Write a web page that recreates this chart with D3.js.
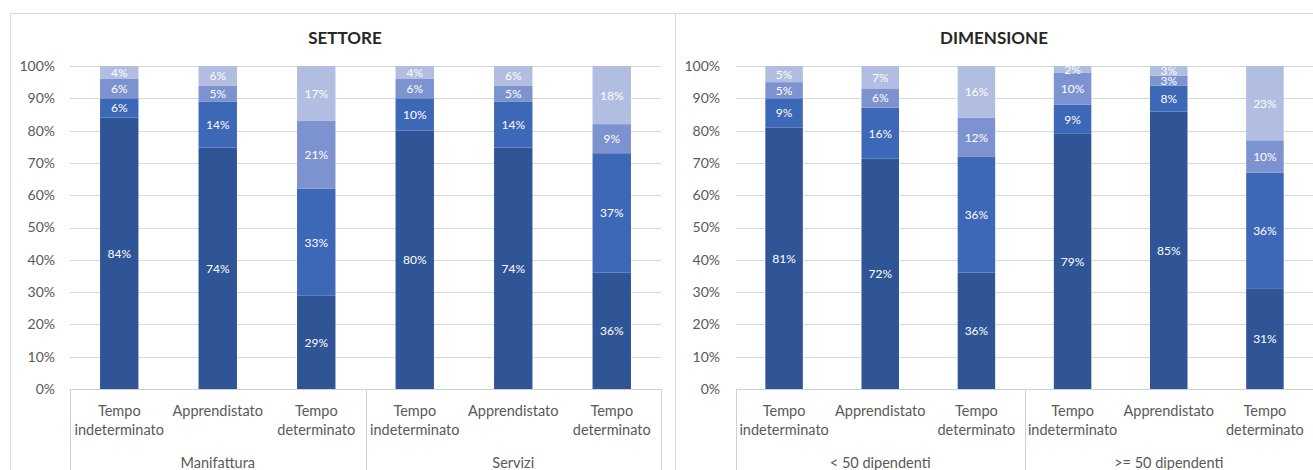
<!DOCTYPE html>
<html>
<head>
<meta charset="utf-8">
<script src="https://cdn.jsdelivr.net/npm/d3@7"></script>
<style>
  html, body { margin: 0; padding: 0; background: #fff; }
  svg { display: block; }
  text { font-family: Lato, "Open Sans", "Noto Sans", sans-serif; }
</style>
</head>
<body>
<svg id="chart" width="1313" height="470"></svg>
<script>
// Contract types shown in every group (each label split over lines)
const contractLabels = [["Tempo", "indeterminato"], ["Apprendistato"], ["Tempo", "determinato"]];

// Panel titles and group names
const panelTitles = ["SETTORE", "DIMENSIONE"];
const settoreGroups = ["Manifattura", "Servizi"];
const dimensioneGroups = ["< 50 dipendenti", ">= 50 dipendenti"];

// SETTORE: four stacked series (bottom to top), six bars (Manifattura x3, Servizi x3)
const settoreS1 = [84, 74, 29, 80, 74, 36];
const settoreS2 = [6, 14, 33, 10, 14, 37];
const settoreS3 = [6, 5, 21, 6, 5, 9];
const settoreS4 = [4, 6, 17, 4, 6, 18];

// DIMENSIONE: four stacked series, six bars (< 50 x3, >= 50 x3)
const dimensioneS1 = [81, 72, 36, 79, 85, 31];
const dimensioneS2 = [9, 16, 36, 9, 8, 36];
const dimensioneS3 = [5, 6, 12, 10, 3, 10];
const dimensioneS4 = [5, 7, 16, 2, 3, 23];

// Y axis ticks (share of total)
const yTicks = [0, 0.1, 0.2, 0.3, 0.4, 0.5, 0.6, 0.7, 0.8, 0.9, 1];

const seriesKeys = ["s1", "s2", "s3", "s4"];
const seriesColors = ["#2f5597", "#3d68b8", "#7d93d0", "#b1bde1"];

const svg = d3.select("#chart");
const W = 1313, H = 470;

// Outer frame lines of the two panels
const frame = svg.append("g").attr("stroke", "#d9d9d9").attr("fill", "none");
frame.append("line").attr("x1", 10).attr("x2", W).attr("y1", 13.5).attr("y2", 13.5);
frame.append("line").attr("x1", 10.5).attr("x2", 10.5).attr("y1", 13).attr("y2", H);
frame.append("line").attr("x1", 675.5).attr("x2", 675.5).attr("y1", 13).attr("y2", H);

function buildRows(groups, s1, s2, s3, s4) {
  const rows = [];
  groups.forEach((g, gi) => {
    contractLabels.forEach((c, ci) => {
      const i = gi * contractLabels.length + ci;
      rows.push({ id: i, group: g, label: c, s1: s1[i], s2: s2[i], s3: s3[i], s4: s4[i] });
    });
  });
  return rows;
}

function drawPanel(cfg) {
  const g = svg.append("g");
  const rows = buildRows(cfg.groups, cfg.s1, cfg.s2, cfg.s3, cfg.s4);

  const x = d3.scaleBand().domain(rows.map(d => d.id)).range([cfg.x0, cfg.x1])
    .paddingInner(0.61).paddingOuter(0.305);
  const y = d3.scaleLinear().domain([0, 1]).range([cfg.yBottom, cfg.yTop]);

  // Title
  g.append("text")
    .attr("x", cfg.titleX).attr("y", 37)
    .attr("text-anchor", "middle").attr("dominant-baseline", "central")
    .attr("font-size", 17).attr("font-weight", 700).attr("fill", "#262626")
    .text(cfg.title);

  // Horizontal gridlines
  g.append("g").selectAll("line").data(yTicks.filter(t => t > 0)).join("line")
    .attr("x1", cfg.x0).attr("x2", cfg.x1)
    .attr("y1", d => Math.round(y(d)) + 0.5).attr("y2", d => Math.round(y(d)) + 0.5)
    .attr("stroke", "#d9d9d9");

  // Y axis labels
  const yAxis = d3.axisLeft(y).tickValues(yTicks).tickFormat(d3.format(".0%")).tickSize(0).tickPadding(0);
  const ya = g.append("g").attr("transform", `translate(${cfg.labelRight},0)`).call(yAxis);
  ya.select(".domain").remove();
  ya.selectAll("text").attr("font-size", 14).attr("fill", "#595959")
    .style("font-family", "Lato, 'Open Sans', sans-serif");

  // Stacked bars normalised to 100%
  const stacked = d3.stack().keys(seriesKeys).offset(d3.stackOffsetExpand)(rows);
  const layers = g.append("g").selectAll("g").data(stacked).join("g")
    .attr("fill", (d, i) => seriesColors[i]);
  layers.selectAll("rect").data(d => d.map(p => ({ p, key: d.key }))).join("rect")
    .attr("x", d => x(d.p.data.id))
    .attr("width", x.bandwidth())
    .attr("y", d => y(d.p[1]))
    .attr("height", d => y(d.p[0]) - y(d.p[1]));

  // Value labels centred in each segment
  const lbl = g.append("g");
  stacked.forEach(layer => {
    layer.forEach(p => {
      lbl.append("text")
        .attr("x", x(p.data.id) + x.bandwidth() / 2)
        .attr("y", y((p[0] + p[1]) / 2))
        .attr("text-anchor", "middle").attr("dominant-baseline", "central")
        .attr("font-size", 12).attr("fill", "#ffffff")
        .text(p.data[layer.key] + "%");
    });
  });

  // Category axis: baseline and group separators
  const ax = g.append("g").attr("stroke", "#d0d0d0");
  ax.append("line").attr("x1", cfg.x0).attr("x2", cfg.x1)
    .attr("y1", cfg.yBottom + 0.5).attr("y2", cfg.yBottom + 0.5);
  const step = x.step();
  const seps = d3.range(cfg.groups.length + 1).map(k => cfg.x0 + k * contractLabels.length * step);
  ax.selectAll("line.sep").data(seps).join("line").attr("class", "sep")
    .attr("x1", d => Math.round(d) + 0.5).attr("x2", d => Math.round(d) + 0.5)
    .attr("y1", cfg.yBottom).attr("y2", H);

  // Category labels
  const cat = g.append("g").attr("fill", "#595959").attr("font-size", 14.5).attr("text-anchor", "middle");
  rows.forEach(r => {
    r.label.forEach((line, li) => {
      cat.append("text")
        .attr("x", x(r.id) + x.bandwidth() / 2)
        .attr("y", 410 + li * 19.5)
        .attr("dominant-baseline", "central")
        .text(line);
    });
  });
  cfg.groups.forEach((grp, gi) => {
    cat.append("text")
      .attr("x", (seps[gi] + seps[gi + 1]) / 2)
      .attr("y", 462)
      .attr("dominant-baseline", "central")
      .text(grp);
  });
}

drawPanel({
  title: panelTitles[0], titleX: 345, groups: settoreGroups,
  s1: settoreS1, s2: settoreS2, s3: settoreS3, s4: settoreS4,
  x0: 70, x1: 661, yTop: 66, yBottom: 389, labelRight: 55
});
drawPanel({
  title: panelTitles[1], titleX: 994, groups: dimensioneGroups,
  s1: dimensioneS1, s2: dimensioneS2, s3: dimensioneS3, s4: dimensioneS4,
  x0: 736, x1: 1313, yTop: 66, yBottom: 389, labelRight: 720
});
</script>
</body>
</html>
